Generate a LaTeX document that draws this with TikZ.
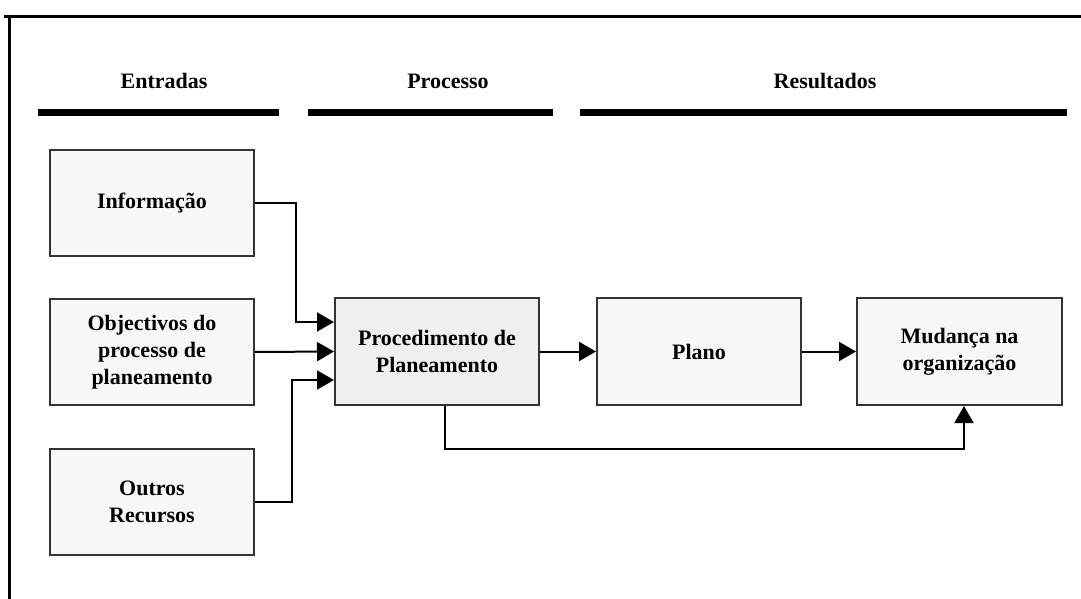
\documentclass[tikz,border=0pt]{standalone}
\usepackage{fontspec}
\setmainfont{Liberation Serif}
\usetikzlibrary{arrows.meta}
\definecolor{boxfill}{HTML}{F7F7F7}
\definecolor{procfill}{HTML}{EFEFEF}
\definecolor{edge}{HTML}{333333}
\tikzset{
  stage/.style={font=\bfseries\fontsize{22}{27}\selectfont, inner sep=0pt, anchor=base},
  block/.style={draw=edge, line width=2pt, fill=boxfill, minimum width=204pt,
    minimum height=106pt, inner sep=0pt, align=center,
    font=\bfseries\fontsize{22}{27}\selectfont},
  bar/.style={line width=7pt},
  link/.style={line width=2pt, -{Triangle[length=17pt,width=19pt]}},
}
\begin{document}
\begin{tikzpicture}[x=1pt,y=-1pt]
\useasboundingbox (0,0) rectangle (1081,599);
% outer frame (open to the right and below)
\draw[line width=3pt] (4,17) -- (1081,17);
\draw[line width=3pt] (9,15.5) -- (9,599);

% column headings and rules
\node[stage] (hin)  at (164,89) {Entradas};
\node[stage] (hpr)  at (448,89) {Processo};
\node[stage] (hres) at (825,89) {Resultados};
\draw[bar] (38,113) -- (279,113);
\draw[bar] (308,113) -- (553,113);
\draw[bar] (580,113) -- (1067,113);

% inputs
\node[block] (info) at (152,203) {Informação};
\node[block] (obj)  at (152,352) {Objectivos do\\processo de\\planeamento};
\node[block] (out)  at (152,501.5) {Outros\\Recursos};

% process and results
\node[block, fill=procfill, minimum height=107pt] (proc) at (437,351.5) {Procedimento de\\Planeamento};
\node[block, minimum height=107pt] (plano) at (699,351.5) {Plano};
\node[block, minimum height=107pt, minimum width=205pt] (mud) at (959.5,351.5) {Mudança na\\organização};

% connectors
\coordinate (j1) at (296,322);
\coordinate (j2) at (292,380);
\coordinate (j3) at (445,449);
\draw[link] (info.east) -| (j1) -- ([yshift=29.5pt]proc.west);
\draw[link] (obj.east) -- (proc.west);
\draw[link] (out.east) -| (j2) -- ([yshift=-28.5pt]proc.west);
\draw[link] (proc.east) -- (plano.west);
\draw[link] (plano.east) -- (mud.west);
\draw[link] ([xshift=8pt]proc.south) -- (j3) -| ([xshift=4.5pt]mud.south);
\end{tikzpicture}
\end{document}
